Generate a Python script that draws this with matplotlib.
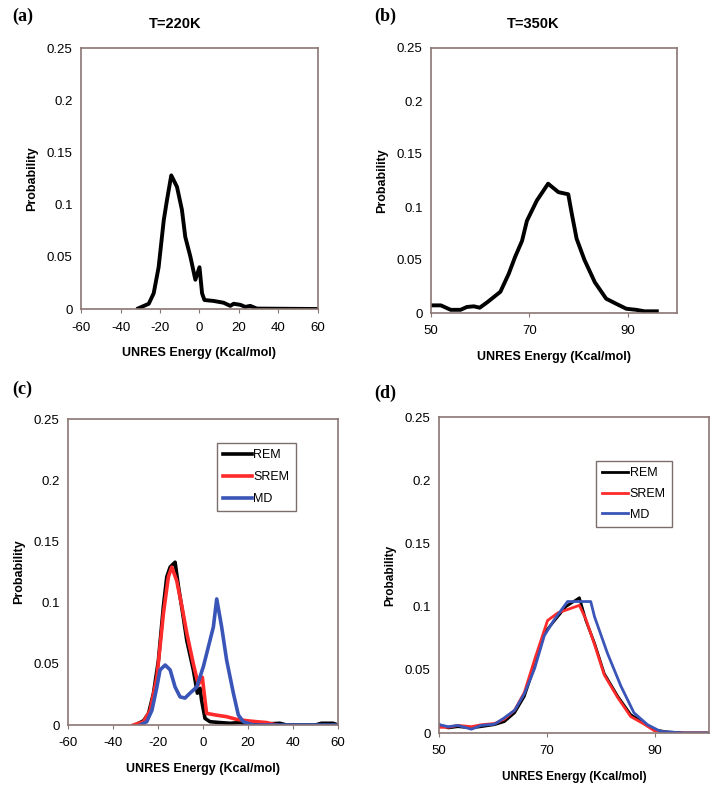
import numpy as np
import matplotlib.pyplot as plt

# ---- data ----
# (a) T=220K
a_x = [-31, -25.7, -23.2, -20.7, -18.1, -16.5, -14.3, -11.4, -8.9, -7.2, -4.6, -2.1, 0, 1.3, 2.5,
       7.2, 12.2, 15.6, 17.3, 20.7, 23.2, 25.7, 29, 60]
a_y = [0.0006, 0.005, 0.015, 0.040, 0.085, 0.104, 0.128, 0.117, 0.095, 0.069, 0.050, 0.028, 0.040, 0.015, 0.0086,
       0.0077, 0.006, 0.003, 0.005, 0.004, 0.002, 0.003, 0.0004, 0]

# (b) T=350K
b_x = [50, 52, 54, 56, 57.3, 58.7, 59.9, 61.4, 64.1, 65.8, 67.1, 68.5, 69.5, 71.5, 73.8, 75.9, 77.9,
       78.6, 79.6, 81.2, 83.3, 85.6, 87.6, 89.7, 91.7, 93.4, 95.9]
b_y = [0.0072, 0.0072, 0.003, 0.003, 0.0057, 0.0063, 0.005, 0.010, 0.020, 0.037, 0.053, 0.068, 0.087, 0.106,
       0.122, 0.114, 0.112, 0.094, 0.070, 0.050, 0.029, 0.0135, 0.0088, 0.004, 0.003, 0.0016, 0.0016]

# (c) REM / SREM / MD at T=220K
c_rem_x = [-30.1, -26.4, -24.2, -22, -19.8, -17.6, -16.1, -14.6, -12.4, -10.9, -9.0, -7.2, -4.3, -2.5,
           -1.3, -0.6, 0.9, 3.1, 7.5, 12, 16.4, 19.4, 25.3, 29.7, 34.2, 37.1, 50, 52.6, 57.8, 60]
c_rem_y = [0, 0.0035, 0.0095, 0.026, 0.053, 0.097, 0.121, 0.129, 0.133, 0.113, 0.091, 0.069, 0.045, 0.026,
           0.030, 0.020, 0.0054, 0.0027, 0.002, 0.0014, 0.002, 0.0005, 0.0014, 0.001, 0.0014, 0, 0, 0.0014, 0.0014, 0]
c_srem_x = [-30.9, -26.4, -23.5, -20.5, -17.6, -15.4, -13.9, -11.7, -9.4, -7.2, -4.3, -2.1, -0.3, 0.9,
            1.6, 6.1, 10.5, 14.9, 19.4, 23.8, 28.2, 32.7]
c_srem_y = [0, 0.0027, 0.012, 0.039, 0.091, 0.121, 0.129, 0.118, 0.097, 0.075, 0.050, 0.033, 0.039, 0.020,
            0.0095, 0.008, 0.0068, 0.0046, 0.0035, 0.0027, 0.002, 0]
c_md_x = [-27.9, -25.0, -22.7, -20.5, -19.1, -16.8, -14.6, -12.4, -10.2, -8.0, -5.8, -2.8, 0.2, 2.4,
          4.6, 6.1, 8.3, 10.5, 13.5, 15.7, 17.9, 22.3, 60]
c_md_y = [0, 0.0027, 0.012, 0.031, 0.045, 0.049, 0.045, 0.031, 0.023, 0.022, 0.026, 0.031, 0.048, 0.064,
          0.080, 0.103, 0.080, 0.053, 0.026, 0.0082, 0.0027, 0, 0]

# (d) REM / SREM / MD at T=350K
d_rem_x = [50, 51.7, 53.5, 56, 57.8, 60.3, 62.1, 64, 65.8, 67.7, 69.5, 71.4, 73.5, 76, 77.2, 78.8, 80.6,
           83.1, 85.5, 88, 89.8, 92.3, 95.4, 100]
d_rem_y = [0.0066, 0.004, 0.005, 0.004, 0.005, 0.0066, 0.009, 0.016, 0.029, 0.053, 0.079, 0.089, 0.100, 0.107,
           0.089, 0.071, 0.047, 0.029, 0.0145, 0.0079, 0.0026, 0.0008, 0, 0]
d_srem_x = [50, 51.7, 53.5, 56, 57.8, 60.3, 62.1, 64, 65.8, 67.7, 70.1, 72, 74, 76, 77.2, 78.8, 80.6,
            83.1, 85.5, 88, 89.8, 92.3, 95.4, 100]
d_srem_y = [0.0045, 0.0045, 0.006, 0.005, 0.0065, 0.0075, 0.011, 0.018, 0.032, 0.058, 0.089, 0.095, 0.098, 0.101,
            0.090, 0.070, 0.046, 0.028, 0.013, 0.007, 0.002, 0.0005, 0, 0]
d_md_x = [50, 51.7, 53.5, 56, 57.8, 60.3, 62.1, 64, 65.8, 67.7, 69.5, 71.4, 73.8, 78.1, 78.8, 81.2, 83.7,
          86.1, 88.6, 91, 95.4, 100]
d_md_y = [0.0066, 0.005, 0.006, 0.003, 0.006, 0.007, 0.012, 0.018, 0.031, 0.051, 0.077, 0.090, 0.104, 0.104,
          0.092, 0.063, 0.037, 0.016, 0.0066, 0.0013, 0, 0]

labels = ['REM', 'SREM', 'MD']
colors = ['#000000', '#ff2a2a', '#3a55b8']

plt.rcParams['font.family'] = ['Liberation Sans', 'DejaVu Sans']
FRAME = '#8a7672'

fig = plt.figure(figsize=(7.22, 7.94), dpi=100)
W, H = 722, 794


def make_ax(l, t, r, b):
    return fig.add_axes([l / W, 1 - b / H, (r - l) / W, (b - t) / H])


def style(ax, xlim, xticks, lab_fs=9):
    ax.set_xlim(*xlim)
    ax.set_ylim(0, 0.25)
    ax.set_xticks(xticks)
    ax.set_xticklabels([str(v) for v in xticks])
    ax.set_yticks([0, 0.05, 0.1, 0.15, 0.2, 0.25])
    ax.set_yticklabels(['0', '0.05', '0.1', '0.15', '0.2', '0.25'])
    for s in ax.spines.values():
        s.set_color(FRAME)
        s.set_linewidth(1.2)
    ax.tick_params(axis='x', direction='out', length=3, color=FRAME, labelsize=9.5, pad=6)
    ax.tick_params(axis='y', direction='out', length=0, labelsize=9.5, pad=6)
    ax.set_xlabel('UNRES Energy (Kcal/mol)', fontsize=lab_fs, fontweight='bold', labelpad=10)
    ax.set_ylabel('Probability', fontsize=lab_fs, fontweight='bold', labelpad=6)


def add_legend(ax, anchor, fs, hl, ls):
    leg = ax.legend(loc='upper left', bbox_to_anchor=anchor, borderaxespad=0, frameon=True, fancybox=False,
                    edgecolor='#5a4a48', fontsize=fs, handlelength=hl, handletextpad=0.1,
                    borderpad=0.5, labelspacing=ls)
    leg.get_frame().set_linewidth(1.0)


# (a)
ax_a = make_ax(81, 48, 318, 309)
ax_a.plot(a_x, a_y, color='black', lw=2.8)
style(ax_a, (-60, 60), [-60, -40, -20, 0, 20, 40, 60])

# (b)
ax_b = make_ax(431, 48, 677, 313)
ax_b.plot(b_x, b_y, color='black', lw=2.8)
style(ax_b, (50, 100), [50, 70, 90])

# (c)
ax_c = make_ax(68, 419, 338, 725)
for xs, ys, lab, col in zip([c_rem_x, c_srem_x, c_md_x], [c_rem_y, c_srem_y, c_md_y], labels, colors):
    ax_c.plot(xs, ys, color=col, lw=2.6, label=lab)
style(ax_c, (-60, 60), [-60, -40, -20, 0, 20, 40, 60])
add_legend(ax_c, (0.552, 0.922), 9, 2.3, 0.8)

# (d)
ax_d = make_ax(439, 417, 709, 733)
for xs, ys, lab, col in zip([d_rem_x, d_srem_x, d_md_x], [d_rem_y, d_srem_y, d_md_y], labels, colors):
    ax_d.plot(xs, ys, color=col, lw=2.0, label=lab)
style(ax_d, (50, 100), [50, 70, 90], lab_fs=8.5)
add_legend(ax_d, (0.581, 0.861), 9, 2.1, 0.7)

# panel letters and titles
serif = ['Liberation Serif', 'DejaVu Serif']
fig.text(12 / W, 1 - 16 / H, '(a)', family=serif, fontsize=13, fontweight='bold', va='center')
fig.text(374 / W, 1 - 16 / H, '(b)', family=serif, fontsize=13, fontweight='bold', va='center')
fig.text(12 / W, 1 - 389 / H, '(c)', family=serif, fontsize=13, fontweight='bold', va='center')
fig.text(374 / W, 1 - 393 / H, '(d)', family=serif, fontsize=13, fontweight='bold', va='center')
fig.text(175 / W, 1 - 24 / H, 'T=220K', fontsize=10.5, fontweight='bold', ha='center', va='center')
fig.text(533 / W, 1 - 24 / H, 'T=350K', fontsize=10.5, fontweight='bold', ha='center', va='center')

fig.savefig('out.png', dpi=100)
